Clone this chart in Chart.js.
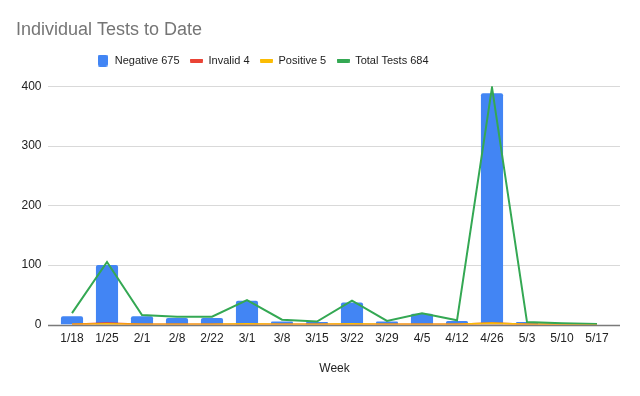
<!DOCTYPE html>
<html><head><meta charset="utf-8">
<script src="https://cdn.jsdelivr.net/npm/chart.js@4/dist/chart.umd.min.js"></script>
<style>html,body{margin:0;padding:0;background:#fff}#wrap{width:640px;height:396px}</style>
</head><body><div id="wrap"><canvas id="c" width="640" height="396"></canvas></div>
<script>
const weeks = ['1/18','1/25','2/1','2/8','2/22','3/1','3/8','3/15','3/22','3/29','4/5','4/12','4/26','5/3','5/10','5/17'];
const negative = [14,100,14,11,11,40,5,4,37,5,18,6,388,4,0,0];
const invalid = [0,2,0,0,0,0,0,0,0,0,0,0,2,0,0,0];
const positive = [0,1,0,0,0,1,0,0,1,0,0,0,2,0,0,0];
const totalTests = [19,105,16,13,13,41,8,5,40,6,19,7,398,4,2,1];
const seriesLabels = ['Negative 675','Invalid 4','Positive 5','Total Tests 684'];
const seriesColors = ['#4285F4','#EA4335','#FBBC04','#34A853'];
const yTicks = [0,100,200,300,400];
const titleText = 'Individual Tests to Date';
const xTitle = 'Week';

const FONT = "'Liberation Sans', Arial, sans-serif";

function swatch(color, w, h, r) {
  const c = document.createElement('canvas');
  c.width = w; c.height = h;
  const g = c.getContext('2d');
  g.fillStyle = color;
  g.beginPath();
  if (g.roundRect) g.roundRect(0, 0, w, h, r); else g.rect(0, 0, w, h);
  g.fill();
  return c;
}
const swatches = [
  swatch(seriesColors[0], 10, 12, 2),
  swatch(seriesColors[1], 13, 4, 1),
  swatch(seriesColors[2], 13, 4, 1),
  swatch(seriesColors[3], 13, 4, 1)
];

const extrasPlugin = {
  id: 'extras',
  beforeDraw(chart) {
    const lg = chart.legend;
    const h = lg.bottom - lg.top;
    lg.left = 85.7; lg.right = 640;
    lg.top = 44.5; lg.bottom = 44.5 + h;
  },
  beforeDatasetsDraw(chart) {
    const ctx = chart.ctx, ys = chart.scales.y, ca = chart.chartArea;
    ctx.save();
    yTicks.forEach(v => {
      const y = Math.round(ys.getPixelForValue(v)) + 0.5;
      ctx.strokeStyle = v === 0 ? '#7a7a7a' : '#d9d9d9';
      ctx.lineWidth = v === 0 ? 1.6 : 1;
      ctx.beginPath();
      ctx.moveTo(ca.left - 6.5, y);
      ctx.lineTo(ca.right + 5.5, y);
      ctx.stroke();
    });
    ctx.restore();
  }
};

new Chart(document.getElementById('c'), {
  data: {
    labels: weeks,
    datasets: [
      { type: 'bar', label: seriesLabels[0], data: negative, backgroundColor: seriesColors[0],
        categoryPercentage: 0.8, barPercentage: 0.79, order: 4,
        borderRadius: {topLeft: 2, topRight: 2, bottomLeft: 0, bottomRight: 0}, borderSkipped: 'start' },
      { type: 'line', label: seriesLabels[1], data: invalid, borderColor: seriesColors[1], backgroundColor: seriesColors[1],
        borderWidth: 2, pointRadius: 0, tension: 0, fill: false, order: 3 },
      { type: 'line', label: seriesLabels[2], data: positive, borderColor: seriesColors[2], backgroundColor: seriesColors[2],
        borderWidth: 2, pointRadius: 0, tension: 0, fill: false, order: 2 },
      { type: 'line', label: seriesLabels[3], data: totalTests, borderColor: seriesColors[3], backgroundColor: seriesColors[3],
        borderWidth: 2, pointRadius: 0, tension: 0, fill: false, order: 1 }
    ]
  },
  options: {
    responsive: false,
    devicePixelRatio: 1,
    animation: false,
    layout: { padding: { left: 16, right: 25.5, top: 0, bottom: 0 } },
    plugins: {
      tooltip: { enabled: false },
      title: {
        display: true, text: titleText, align: 'start', color: '#757575',
        font: { family: FONT, size: 18, weight: 'normal' },
        padding: { top: 19.5, bottom: 13.6 }
      },
      legend: {
        display: true, position: 'top', align: 'start',
        labels: {
          usePointStyle: true, pointStyleWidth: 13, boxHeight: 11,
          font: { family: FONT, size: 11 }, color: '#222', padding: 10.5,
          generateLabels(chart) {
            return chart.data.datasets.map((ds, i) => ({
              text: ds.label, fillStyle: seriesColors[i], strokeStyle: seriesColors[i],
              lineWidth: 0, pointStyle: swatches[i], datasetIndex: i, hidden: false, fontColor: '#222'
            }));
          }
        }
      }
    },
    scales: {
      x: {
        grid: { display: false, drawTicks: false },
        border: { display: false },
        ticks: { padding: 7, color: '#222', font: { family: FONT, size: 12 }, maxRotation: 0, autoSkip: false },
        title: { display: true, text: xTitle, color: '#222', font: { family: FONT, size: 12 }, padding: { top: 0, bottom: 20 } },
        afterFit(s) { s.height = 71.5; }
      },
      y: {
        min: yTicks[0], max: yTicks[yTicks.length - 1],
        grid: { display: false, drawTicks: false },
        border: { display: false },
        ticks: { padding: 13, color: '#222', font: { family: FONT, size: 12 } },
        afterBuildTicks(s) { s.ticks = yTicks.map(v => ({ value: v })); },
        afterFit(s) { s.width = 38.5; }
      }
    }
  },
  plugins: [extrasPlugin]
});
</script>
</body></html>
